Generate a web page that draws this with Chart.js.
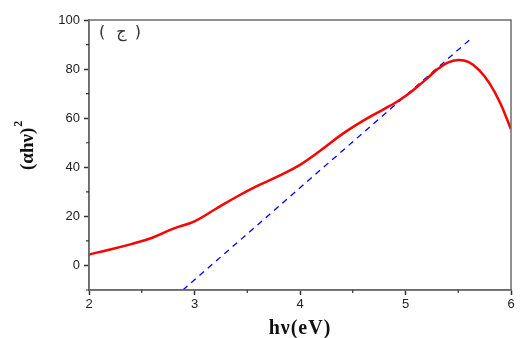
<!DOCTYPE html>
<html>
<head>
<meta charset="utf-8">
<script src="https://cdn.jsdelivr.net/npm/chart.js@4/dist/chart.umd.min.js"></script>
<style>
  body { margin: 0; background: #fff; }
</style>
</head>
<body>
<canvas id="chart" width="521" height="338"></canvas>
<script>
// photon energy (eV) and (αhν)^2
const energy = [2.0, 2.2, 2.4, 2.6, 2.8, 3.0, 3.2, 3.4, 3.6, 3.8, 4.0, 4.2, 4.4, 4.6, 4.8, 4.9, 5.0, 5.1, 5.2, 5.3, 5.4, 5.5, 5.6, 5.7, 5.8, 5.9, 6.0];
const absorption = [4.5, 6.5, 8.7, 11.3, 15.0, 18.0, 23, 28, 32.5, 36.5, 41, 47, 53.5, 59, 63.8, 66.2, 69, 72.4, 76, 79.8, 82.6, 83.7, 82.8, 79.5, 74, 66, 55.5];
// linear fit (Tauc extrapolation)
const fitX = [2.89, 5.61];
const fitY = [-10, 92];

const xTicks = [2, 3, 4, 5, 6];
const yTicks = [0, 20, 40, 60, 80, 100];
const panelLabel = '( ج )';

const frame = {
    id: 'frame',
    afterDraw(chart) {
        const { ctx, chartArea: a, scales } = chart;
        ctx.save();
        ctx.strokeStyle = '#6b6b6b';
        ctx.lineWidth = 1.5;
        ctx.strokeRect(a.left, a.top, a.right - a.left, a.bottom - a.top);

        // minor ticks
        ctx.lineWidth = 1.2;
        ctx.strokeStyle = '#333';
        ctx.beginPath();
        for (let i = 0; i < xTicks.length - 1; i++) {
            const px = scales.x.getPixelForValue(xTicks[i] + 0.5);
            ctx.moveTo(px, a.bottom);
            ctx.lineTo(px, a.bottom + 3);
        }
        for (let v = -10; v < 100; v += 20) {
            const py = scales.y.getPixelForValue(v);
            ctx.moveTo(a.left, py);
            ctx.lineTo(a.left - 3, py);
        }
        ctx.stroke();

        // panel label
        ctx.fillStyle = '#333';
        ctx.font = '16px "DejaVu Sans"';
        ctx.textBaseline = 'middle';
        ctx.letterSpacing = '3px';
        ctx.fillText(panelLabel, a.left + 10, a.top + 13);

        // axis titles
        ctx.fillStyle = '#111';
        ctx.font = 'bold 20px "Liberation Serif"';
        ctx.textAlign = 'center';
        ctx.textBaseline = 'alphabetic';
        ctx.letterSpacing = '1px';
        ctx.fillText('hν(eV)', 300, 334);
        ctx.letterSpacing = '0px';

        ctx.translate(33, 170);
        ctx.rotate(-Math.PI / 2);
        ctx.textAlign = 'left';
        ctx.font = 'bold 19px "Liberation Serif"';
        const w = ctx.measureText('(αhν)').width;
        ctx.fillText('(αhν)', 0, 0);
        ctx.font = 'bold 12px "Liberation Serif"';
        ctx.fillText('2', w + 1, -11);
        ctx.restore();
    }
};

new Chart(document.getElementById('chart').getContext('2d'), {
    type: 'line',
    data: {
        datasets: [{
            label: '(αhν)^2',
            data: energy.map((e, i) => ({ x: e, y: absorption[i] })),
            borderColor: '#ff0000',
            borderWidth: 2.5,
            pointRadius: 0,
            tension: 0.4,
            fill: false
        }, {
            label: 'fit',
            data: fitX.map((e, i) => ({ x: e, y: fitY[i] })),
            borderColor: '#0000ff',
            borderWidth: 1.3,
            borderDash: [6, 5],
            pointRadius: 0,
            fill: false
        }]
    },
    options: {
        responsive: false,
        animation: false,
        layout: { padding: { left: 0, right: 10, top: 20, bottom: 0 } },
        plugins: { legend: { display: false }, tooltip: { enabled: false } },
        scales: {
            x: {
                type: 'linear',
                min: 2,
                max: 6,
                afterBuildTicks: s => { s.ticks = xTicks.map(v => ({ value: v })); },
                afterFit: s => { s.height = 48; },
                grid: { drawOnChartArea: false, tickLength: 5, tickColor: '#333', tickWidth: 1.5 },
                border: { color: '#6b6b6b', width: 1.5 },
                ticks: { color: '#222', font: { family: 'Liberation Sans', size: 13 }, padding: 2, maxRotation: 0 }
            },
            y: {
                min: -10,
                max: 100,
                afterBuildTicks: s => { s.ticks = yTicks.map(v => ({ value: v })); },
                afterFit: s => { s.width = 89; },
                grid: { drawOnChartArea: false, tickLength: 5, tickColor: '#333', tickWidth: 1.5 },
                border: { color: '#6b6b6b', width: 1.5 },
                ticks: { color: '#222', font: { family: 'Liberation Sans', size: 13 }, padding: 4 }
            }
        }
    },
    plugins: [frame]
});
</script>
</body>
</html>
